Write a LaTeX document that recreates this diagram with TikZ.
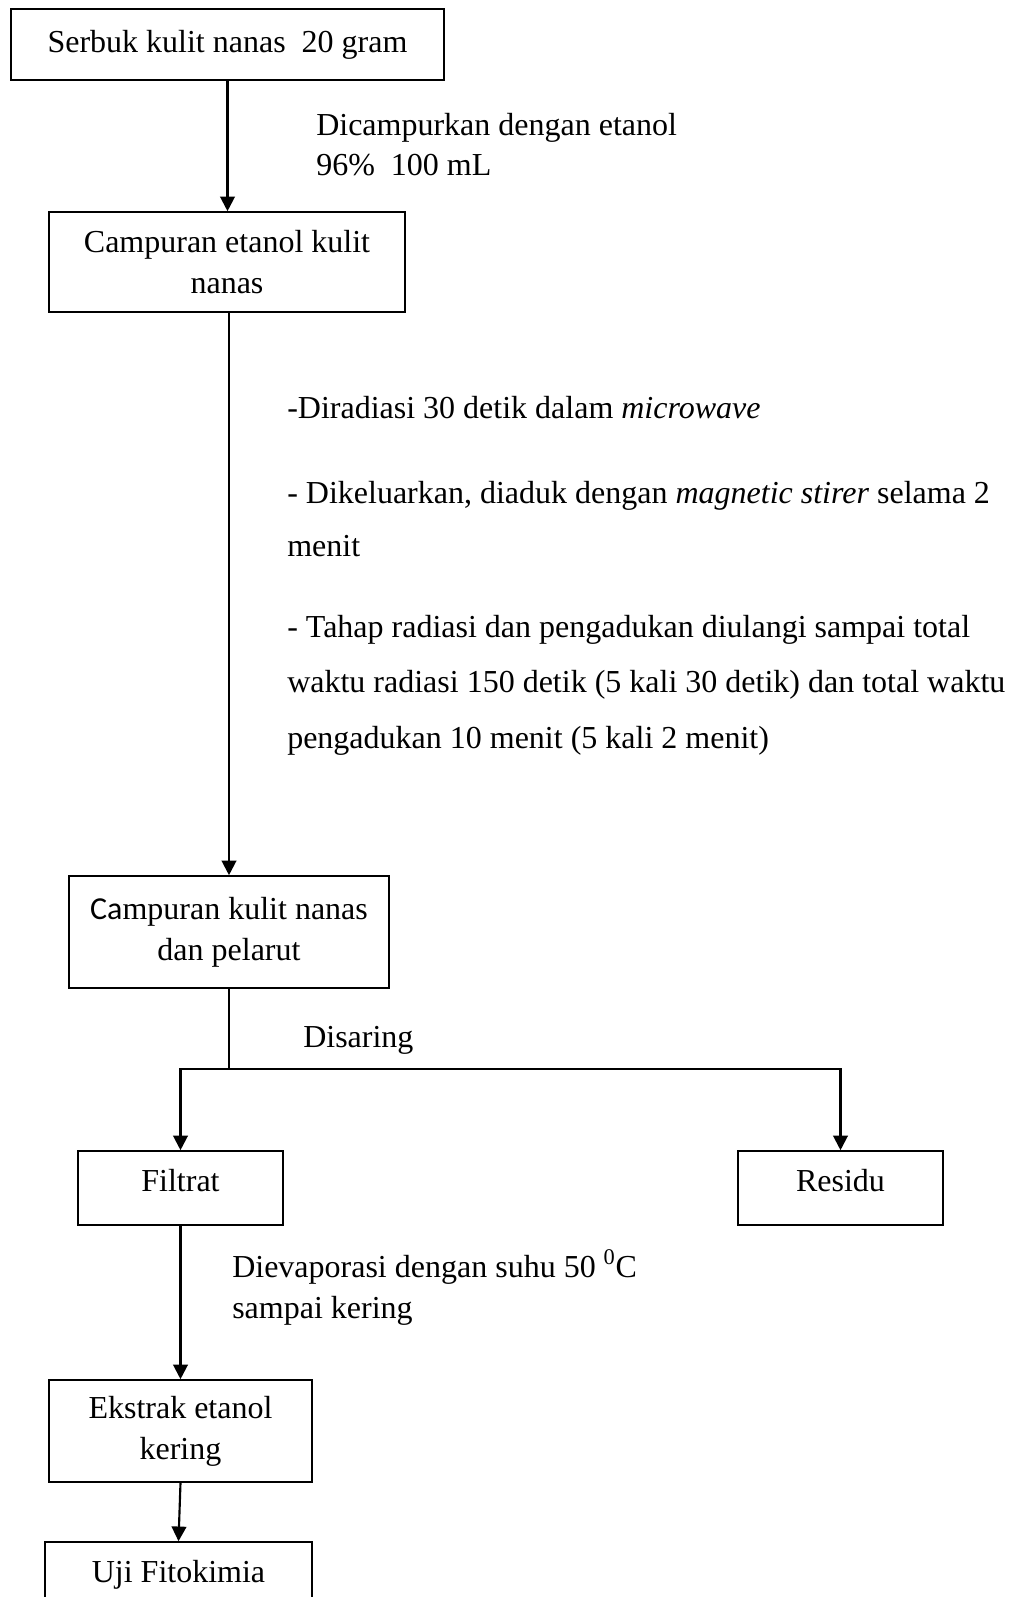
\documentclass[tikz,border=0pt]{standalone}
\usepackage{fontspec}
\setmainfont{Liberation Serif}
\newfontfamily\carlito{Carlito}
\usetikzlibrary{arrows.meta}
\begin{document}
\begin{tikzpicture}[x=0.75pt,y=-0.75pt,
  box/.style={draw,line width=1.2pt,inner sep=0pt,font=\fontsize{24}{30.5}\selectfont},
  mbox/.style={box,align=center},
  sbox/.style={box,text height=16.5pt,text depth=12pt},
  lbl/.style={anchor=base west,inner sep=0pt,font=\fontsize{24}{30.5}\selectfont},
  arr/.style={line width=1.6pt,-{Triangle[length=11pt,width=11pt]}},
  ln/.style={line width=1.6pt}]
\useasboundingbox (0,0) rectangle (1011,1597);
\clip (0,0) rectangle (1011,1597);

% boxes
\node[box,minimum width=324.75pt,minimum height=53.25pt] (b1) at (227.5,44.5) {Serbuk kulit nanas\ \ 20 gram};
\node[mbox,minimum width=267pt,minimum height=75pt] (b2) at (227,262) {Campuran etanol kulit\\nanas};
\node[mbox,minimum width=240pt,minimum height=84pt] (b3) at (229,932) {{\carlito Ca}mpuran kulit nanas\\dan pelarut};
\node[sbox,minimum width=153.75pt,minimum height=55.5pt] (fil) at (180.5,1188) {Filtrat};
\node[sbox,minimum width=153.75pt,minimum height=55.5pt] (res) at (840.5,1188) {Residu};
\node[mbox,minimum width=197.25pt,minimum height=76.5pt] (eks) at (180.5,1431) {Ekstrak etanol\\kering};
\node[sbox,minimum width=200.25pt,minimum height=55.5pt] (uji) at (178.5,1579) {Uji Fitokimia};

% connectors
\coordinate (j) at (229,1069);
\draw[arr] (b1.south) -- (b1.south |- b2.north);
\draw[arr] (b3.north |- b2.south) -- (b3.north);
\draw[ln] (b3.south) -- (j);
\draw[arr] (j) -| (fil.north);
\draw[arr] (j) -| (res.north);
\draw[arr] (fil.south) -- (eks.north);
\draw[arr] (eks.south) -- (uji.north);

% labels
\node[lbl] (l1a) at (316,135) {Dicampurkan dengan etanol};
\node[lbl] (l1b) at (316,175) {96\%\ \ 100 mL};
\node[lbl] (m1) at (287,418) {-Diradiasi 30 detik dalam \textit{microwave}};
\node[lbl] (m2) at (287,503) {- Dikeluarkan, diaduk dengan \textit{magnetic stirer} selama 2};
\node[lbl] (m3) at (287,556) {menit};
\node[lbl] (m4) at (287,637) {- Tahap radiasi dan pengadukan diulangi sampai total};
\node[lbl] (m5) at (287,692) {waktu radiasi 150 detik (5 kali 30 detik) dan total waktu};
\node[lbl] (m6) at (287,748) {pengadukan 10 menit (5 kali 2 menit)};
\node[lbl] (dis) at (303,1047) {Disaring};
\node[lbl] (ev1) at (232,1277) {Dievaporasi dengan suhu 50 \textsuperscript{0}C};
\node[lbl] (ev2) at (232,1318) {sampai kering};
\end{tikzpicture}
\end{document}
